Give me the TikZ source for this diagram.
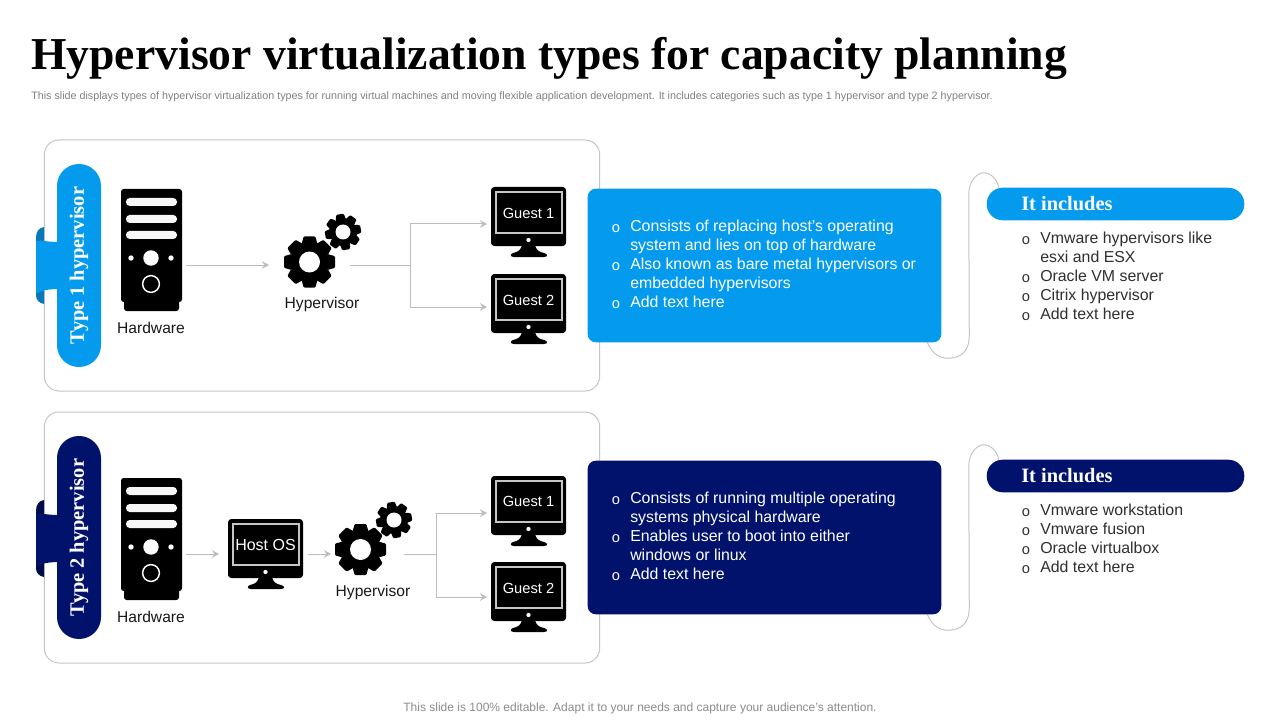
\documentclass[tikz,border=0pt]{standalone}
\usepackage{fontspec}
\setmainfont{Liberation Sans}
\newfontfamily\headfont{Liberation Serif}[BoldFont={Liberation Serif Bold}]
\usetikzlibrary{arrows.meta,calc}
\definecolor{lightb}{HTML}{049BEE}
\definecolor{lightd}{HTML}{0679BC}
\definecolor{navy}{HTML}{00126B}
\definecolor{navyd}{HTML}{000C4A}
\definecolor{linegray}{HTML}{BDBDBD}
\definecolor{panelgray}{HTML}{C6C6C6}
\definecolor{listgray}{HTML}{2F2F2F}
\tikzset{
  panel/.style={draw=panelgray,line width=.75pt,rounded corners=11pt,minimum width=416.5pt,minimum height=188.25pt,inner sep=0pt},
  vpill/.style={rotate=90,minimum width=152.25pt,minimum height=33pt,rounded corners=16.4pt,inner sep=0pt,text=white,font=\headfont\bfseries\fontsize{15.3}{17}\selectfont},
  infobox/.style={minimum width=264.75pt,minimum height=114.75pt,rounded corners=6pt,inner sep=0pt},
  hpill/.style={minimum width=192.75pt,minimum height=24pt,rounded corners=11.9pt,inner sep=0pt},
  pilltext/.style={anchor=west,inner sep=0pt,text=white,font=\headfont\bfseries\fontsize{15.3}{17}\selectfont},
  iconbox/.style={inner sep=0pt,outer sep=0pt,minimum width=#1,minimum height=45pt},
  conn/.style={draw=linegray,line width=.75pt,-{Stealth[length=5.5pt,width=6pt,inset=2.2pt]}},
  loopline/.style={draw=panelgray,line width=.75pt},
  iconlabel/.style={inner sep=0pt,font=\fontsize{11.7}{14}\selectfont,text=black!90},
  screenlabel/.style={inner sep=0pt,text=white,font=\fontsize{11}{13}\selectfont},
  bodytext/.style={anchor=north west,inner sep=0pt,align=left,font=\fontsize{11.9}{14.25}\selectfont},
  bullettext/.style={inner sep=0pt,font=\fontsize{11}{12}\selectfont}
}
\newcommand{\serverIcon}[2]{\begin{scope}[shift={(#1,#2)}]
  \fill[black,rounded corners=2pt] (0,0) rectangle (61,113);
  \fill[black,rounded corners=2pt] (3,100) rectangle (58,122);
  \foreach \yy in {9,26,42}{\fill[white!97!black,rounded corners=2.8pt] (5,\yy) rectangle (56,\yy+8);}
  \fill[white] (30,69) circle (5.8pt);
  \fill[white] (10,69) circle (2pt);
  \fill[white] (50,69) circle (2pt);
  \draw[white,line width=1.1pt] (30,95) circle (6.3pt);
\end{scope}}
\newcommand{\monIcon}[2]{\begin{scope}[shift={(#1,#2)}]
  \fill[black,rounded corners=2.5pt] (0,0) rectangle (75,59);
  \draw[panelgray,line width=1pt,fill=black] (5,5) rectangle (71,46);
  \fill[white] (37.5,53) circle (1.6pt);
  \fill[black] (31,58) -- (44,58) .. controls (45,63) and (48,65) .. (53,66) .. controls (57,67) and (57,70) .. (53,70) -- (23,70) .. controls (19,70) and (19,67) .. (22,66) .. controls (27,65) and (30,63) .. (31,58) -- cycle;
\end{scope}}
\newcommand{\gearIcon}[7]{\begin{scope}[shift={(#1,#2)}]
  \fill[black] (0,0) circle ({#4*0.75pt});
  \foreach \aa in {0,45,...,315}{
    \fill[black,rotate=\aa+#7,rounded corners=.8pt] ({-0.62*#6},{-#4+2}) -- ({-0.45*#6},{-#3}) -- ({0.45*#6},{-#3}) -- ({0.62*#6},{-#4+2}) -- cycle;
  }
  \fill[white] (0,0) circle ({#5*0.75pt});
\end{scope}}
\newcommand{\itemline}[4]{%
  \node[bullettext,text=#4] at (#1+4,#2+2.5) {o};
  \node[bodytext,text=#4] at (#1+18,#2-8.2) {\rule{0pt}{10pt}#3};}
\begin{document}
\begin{tikzpicture}[x=0.75pt,y=-0.75pt]
\useasboundingbox (0,0) rectangle (1280,720);
\fill[white] (0,0) rectangle (1280,720);
% heading
\node[anchor=base west,inner sep=0pt,font=\headfont\bfseries\fontsize{34.23}{36}\selectfont,text=black] (title) at (31,70) {Hypervisor virtualization types for capacity planning};
\node[anchor=west,inner sep=0pt,text=black!50,font=\fontsize{8.06}{9}\selectfont] (sub) at (31,97) {This slide displays types of hypervisor virtualization types for running virtual machines and moving flexible application development. It includes categories such as type 1 hypervisor and type 2 hypervisor.};
\node[inner sep=0pt,text=black!45,font=\fontsize{9}{11}\selectfont] (foot) at (640,708.5) {This slide is 100\% editable. Adapt it to your needs and capture your audience's attention.};
% panels
\node[panel] (p1) at (322,265.5) {};
\node[panel] (p2) at (322,537.5) {};
% ribbon tabs
\fill[lightd] (44,227) .. controls (39,228) and (36,231) .. (36,238) -- (36,295) .. controls (36,300) and (39,303) .. (44,304) -- cycle;
\fill[lightb] (36,241) .. controls (42,240) and (46,242) .. (60,242) -- (60,289) .. controls (46,289) and (42,291) .. (36,293) -- cycle;
\fill[navyd] (44,500) .. controls (39,501) and (36,504) .. (36,511) -- (36,568) .. controls (36,573) and (39,576) .. (44,577) -- cycle;
\fill[navy] (36,514) .. controls (42,513) and (46,515) .. (60,515) -- (60,562) .. controls (46,562) and (42,564) .. (36,566) -- cycle;
\node[vpill,fill=lightb] (tag1) at (79,265.5) {\raisebox{-1.5pt}{Type 1 hypervisor}};
\node[vpill,fill=navy] (tag2) at (79,537.5) {\raisebox{-1.5pt}{Type 2 hypervisor}};
% row 1 icons
\serverIcon{121}{189}
\node[iconbox=45.75pt] (hw1) at (151.5,250) {};
\node[iconlabel] (hwl1) at (151,327.5) {Hardware};
\gearIcon{309.5}{262}{25.5}{19.5}{10.5}{13}{0}
\gearIcon{343}{232}{18}{13.5}{7.5}{8.5}{10}
\node[iconbox=47.25pt] (gear1) at (314.5,265) {};
\node[iconlabel] (gl1) at (322,304) {Hypervisor};
\monIcon{491}{187}
\monIcon{491}{274}
\node[iconbox=56.25pt] (g11) at (528.5,224) {};
\node[iconbox=56.25pt] (g12) at (528.5,307) {};
\node[screenlabel] (g11t) at (528.5,213) {Guest 1};
\node[screenlabel] (g12t) at (528.5,300) {Guest 2};
\coordinate (j1) at (410,265);
\draw[conn,shorten <=3pt,shorten >=10.5pt] (hw1.east |- gear1.west) -- (gear1.west);
\draw[conn,shorten <=3pt,shorten >=3pt] (gear1.east) -- (j1) |- (g11.west);
\draw[conn,shorten >=3pt] (j1) |- (g12.west);
% row 2 icons
\serverIcon{121}{478}
\node[iconbox=45.75pt] (hw2) at (151.5,539) {};
\node[iconlabel] (hwl2) at (151,616.5) {Hardware};
\monIcon{228}{519}
\node[iconbox=56.25pt] (host) at (265.5,554) {};
\node[screenlabel,font=\fontsize{12}{14}\selectfont] (hostt) at (265.5,545) {Host OS};
\gearIcon{360.5}{549.5}{25.5}{19.5}{10.5}{13}{0}
\gearIcon{394}{520}{18}{13.5}{7.5}{8.5}{10}
\node[iconbox=49.5pt] (gear2) at (367,554) {};
\node[iconlabel] (gl2) at (373,592) {Hypervisor};
\monIcon{491}{476}
\monIcon{491}{562}
\node[iconbox=56.25pt] (g21) at (528.5,513) {};
\node[iconbox=56.25pt] (g22) at (528.5,597) {};
\node[screenlabel] (g21t) at (528.5,501) {Guest 1};
\node[screenlabel] (g22t) at (528.5,588) {Guest 2};
\coordinate (j2) at (436,554);
\draw[conn,shorten <=3pt,shorten >=6.75pt] (hw2.east |- host.west) -- (host.west);
\draw[conn,shorten <=3.75pt,shorten >=2.25pt] (host.east) -- (gear2.west);
\draw[conn,shorten <=3pt,shorten >=3pt] (gear2.east) -- (j2) |- (g21.west);
\draw[conn,shorten >=3pt] (j2) |- (g22.west);
% info boxes
\node[infobox] (b1) at (764.5,265.5) {};
\node[infobox] (b2) at (764.5,537.5) {};
\node[hpill] (i1) at (1115.5,204) {};
\node[hpill] (i2) at (1115.5,476) {};
% loop connectors
\draw[loopline] ($(b1.south east)+(-14,0)$) .. controls ($(b1.south east)+(-10,10)$) and ($(b1.south east)+(-3,16)$) .. ($(b1.south east)+(7,16)$) .. controls ($(b1.south east)+(20,16)$) and ($(b1.south east)+(28,8)$) .. ($(b1.south east)+(28,-6)$) -- ($(i1.north west)+(-18,6)$) .. controls ($(i1.north west)+(-18,-6)$) and ($(i1.north west)+(-10,-15)$) .. ($(i1.north west)+(-3,-15)$) .. controls ($(i1.north west)+(4,-15)$) and ($(i1.north west)+(11,-8)$) .. ($(i1.north west)+(12,0)$);
\draw[loopline] ($(b2.south east)+(-14,0)$) .. controls ($(b2.south east)+(-10,10)$) and ($(b2.south east)+(-3,16)$) .. ($(b2.south east)+(7,16)$) .. controls ($(b2.south east)+(20,16)$) and ($(b2.south east)+(28,8)$) .. ($(b2.south east)+(28,-6)$) -- ($(i2.north west)+(-18,6)$) .. controls ($(i2.north west)+(-18,-6)$) and ($(i2.north west)+(-10,-15)$) .. ($(i2.north west)+(-3,-15)$) .. controls ($(i2.north west)+(4,-15)$) and ($(i2.north west)+(11,-8)$) .. ($(i2.north west)+(12,0)$);
\fill[lightb,rounded corners=6pt] (b1.north west) rectangle (b1.south east);
\fill[navy,rounded corners=6pt] (b2.north west) rectangle (b2.south east);
\fill[lightb,rounded corners=11.9pt] (i1.north west) rectangle (i1.south east);
\fill[navy,rounded corners=11.9pt] (i2.north west) rectangle (i2.south east);
\node[pilltext] (i1t) at (1021,204) {It includes};
\node[pilltext] (i2t) at (1021,476) {It includes};
% box text
\itemline{612}{226}{Consists of replacing host’s operating\\system and lies on top of hardware}{white}
\itemline{612}{264}{Also known as bare metal hypervisors or\\embedded hypervisors}{white}
\itemline{612}{302}{Add text here}{white}
\itemline{612}{498}{Consists of running multiple operating\\systems physical hardware}{white}
\itemline{612}{536}{Enables user to boot into either\\windows or linux}{white}
\itemline{612}{574}{Add text here}{white}
% lists
\itemline{1022}{238}{Vmware hypervisors like\\esxi and ESX}{listgray}
\itemline{1022}{276}{Oracle VM server}{listgray}
\itemline{1022}{295}{Citrix hypervisor}{listgray}
\itemline{1022}{314}{Add text here}{listgray}
\itemline{1022}{510}{Vmware workstation}{listgray}
\itemline{1022}{529}{Vmware fusion}{listgray}
\itemline{1022}{548}{Oracle virtualbox}{listgray}
\itemline{1022}{567}{Add text here}{listgray}
\end{tikzpicture}
\end{document}
